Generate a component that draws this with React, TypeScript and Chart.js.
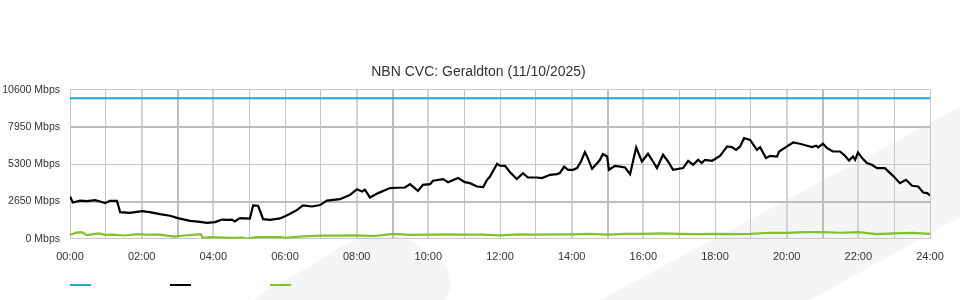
import React, { useEffect, useRef } from "react";
import { Chart, registerables } from "chart.js";

Chart.register(...registerables);

const titleText = "NBN CVC: Geraldton (11/10/2025)";
const yTicks = [0, 2650, 5300, 7950, 10600];

const capacityTimes = [0, 24];
const capacityMbps = [10000, 10000];

const downloadTimes = [
  0.0, 0.08, 0.28, 0.47, 0.7, 0.84, 0.98, 1.12, 1.31, 1.4, 1.67, 2.01, 2.23, 2.51, 2.79, 3.01, 3.35, 3.63, 3.82,
  4.05, 4.24, 4.41, 4.52, 4.6, 4.74, 5.02, 5.11, 5.25, 5.39, 5.58, 5.86, 6.0, 6.14, 6.33, 6.5, 6.75, 6.98, 7.17,
  7.53, 7.81, 8.01, 8.15, 8.23, 8.37, 8.6, 8.93, 9.13, 9.35, 9.49, 9.71, 9.85, 10.05, 10.13, 10.41, 10.55, 10.83,
  11.02, 11.16, 11.36, 11.53, 11.64, 11.72, 11.92, 12.0, 12.14, 12.28, 12.47, 12.64, 12.78, 13.03, 13.17, 13.4,
  13.59, 13.67, 13.79, 13.9, 14.04, 14.15, 14.26, 14.37, 14.43, 14.57, 14.74, 14.79, 14.87, 14.99, 15.04, 15.21,
  15.35, 15.49, 15.63, 15.8, 15.96, 16.13, 16.24, 16.38, 16.55, 16.69, 16.83, 17.11, 17.25, 17.39, 17.53, 17.63,
  17.72, 17.92, 18.14, 18.34, 18.47, 18.59, 18.7, 18.81, 18.98, 19.17, 19.26, 19.42, 19.54, 19.73, 19.79, 20.01,
  20.18, 20.37, 20.57, 20.71, 20.82, 20.88, 21.01, 21.13, 21.29, 21.49, 21.63, 21.74, 21.85, 21.91, 21.99, 22.13,
  22.24, 22.38, 22.52, 22.74, 22.97, 23.16, 23.33, 23.5, 23.67, 23.81, 23.92, 24.0,
];
const downloadMbps = [
  3010, 2580, 2720, 2680, 2750, 2650, 2540, 2700, 2700, 1900, 1850, 1970, 1900, 1760, 1640, 1470, 1280, 1200, 1140,
  1190, 1370, 1340, 1370, 1230, 1470, 1440, 2370, 2350, 1400, 1350, 1450, 1610, 1780, 2040, 2370, 2300, 2400, 2720,
  2820, 3110, 3530, 3370, 3490, 2940, 3250, 3610, 3630, 3650, 3890, 3410, 3840, 3890, 4130, 4250, 4030, 4320,
  4030, 3960, 3720, 3680, 4200, 4430, 5340, 5210, 5190, 4740, 4250, 4670, 4360, 4360, 4320, 4550,
  4600, 4670, 5140, 4910, 4910, 5030, 5500, 6170, 5860, 4980, 5460, 5620, 6030, 5860, 4910, 5190,
  5140, 5070, 4600, 6500, 5500, 6050, 5620, 5030, 5980, 5500, 4910, 5030, 5550, 5260, 5620, 5390,
  5620, 5550, 5900, 6570, 6520, 6330, 6570, 7160, 7040, 6330, 6520, 5740, 5900, 5850, 6210, 6570,
  6850, 6760, 6620, 6520, 6620, 6500, 6760, 6450, 6210, 6210, 5900, 5570, 5860, 5620, 6140, 5670,
  5390, 5260, 5030, 5030, 4480, 3960, 4200, 3770, 3720, 3290, 3250, 3080,
];

const uploadTimes = [
  0.0, 0.2, 0.35, 0.47, 0.8, 0.98, 1.2, 1.5, 1.9, 2.1, 2.5, 2.9, 3.2, 3.5, 3.65, 3.7, 3.9, 4.5, 4.8, 4.95, 5.2,
  5.9, 6.0, 6.4, 6.8, 7.0, 7.5, 8.0, 8.5, 9.0, 9.5, 10.0, 10.5, 11.0, 11.5, 12.0, 12.5, 13.0, 13.5, 14.0, 14.5,
  15.0, 15.5, 16.0, 16.5, 17.0, 17.5, 18.0, 18.5, 19.0, 19.5, 20.0, 20.5, 21.0, 21.5, 22.0, 22.5, 23.0, 23.5, 24.0,
];
const uploadMbps = [
  285, 450, 450, 260, 380, 285, 300, 235, 330, 300, 300, 150, 235, 300, 330, 70, 120, 60, 90, 20, 120,
  120, 60, 150, 210, 220, 220, 250, 200, 350, 280, 300, 320, 300, 300, 250, 320, 300, 320, 320, 350,
  300, 350, 350, 380, 350, 330, 350, 330, 350, 430, 420, 480, 480, 430, 480, 330, 380, 420, 350,
];

const seriesColors = ["#1fa5e0", "#000000", "#80c22a"];

const toPoints = (xs: number[], ys: number[]) => xs.map((x, i) => ({ x, y: ys[i] }));

const watermark = {
  id: "watermark",
  beforeDraw(chart: any) {
    const c = chart.ctx;
    c.save();
    c.fillStyle = "#f4f5f7";
    c.beginPath();
    c.moveTo(253, 300);
    c.lineTo(270, 288);
    c.lineTo(300, 272);
    c.lineTo(340, 247);
    c.lineTo(367, 235);
    c.lineTo(387, 233);
    c.lineTo(413, 242);
    c.lineTo(447, 267);
    c.lineTo(452, 287);
    c.lineTo(445, 300);
    c.closePath();
    c.fill();
    c.beginPath();
    c.moveTo(600, 300);
    c.lineTo(960, 107);
    c.lineTo(960, 217);
    c.lineTo(810, 300);
    c.closePath();
    c.fill();
    c.restore();
  },
};

const lineLegend = {
  id: "lineLegend",
  afterDraw(chart: any) {
    const c = chart.ctx;
    const left = chart.chartArea.left;
    c.save();
    chart.data.datasets.forEach((ds: any, i: number) => {
      c.fillStyle = ds.borderColor;
      c.fillRect(left + i * 100, 284, 21, 2);
    });
    c.restore();
  },
};

export default function App() {
  const ref = useRef<HTMLCanvasElement | null>(null);
  useEffect(() => {
    document.body.style.margin = "0";
    if (!ref.current) return;
    const chart = new Chart(ref.current, {
      type: "line",
      data: {
        datasets: [
          { label: "Capacity", data: toPoints(capacityTimes, capacityMbps), borderColor: seriesColors[0], borderWidth: 2 },
          { label: "Download", data: toPoints(downloadTimes, downloadMbps), borderColor: seriesColors[1], borderWidth: 2.2 },
          { label: "Upload", data: toPoints(uploadTimes, uploadMbps), borderColor: seriesColors[2], borderWidth: 2.2 },
        ],
      },
      options: {
        responsive: false,
        animation: false,
        elements: { point: { radius: 0 }, line: { tension: 0 } },
        layout: { padding: { top: 52, right: 3, bottom: 24, left: 0 } },
        plugins: {
          legend: { display: false },
          tooltip: { enabled: false },
          title: {
            display: true,
            text: titleText,
            color: "#333333",
            font: { family: "'Liberation Sans', Arial, sans-serif", size: 14, weight: "normal" },
            padding: { top: 12, bottom: 9 },
          },
        },
        scales: {
          x: {
            type: "linear",
            min: 0,
            max: 24,
            afterFit: (scale: any) => {
              scale.paddingRight = 30;
            },
            border: { display: true, color: "#c8c8c8" },
            ticks: {
              stepSize: 1,
              autoSkip: false,
              maxRotation: 0,
              padding: 12,
              color: "#333333",
              font: { family: "'Liberation Sans', Arial, sans-serif", size: 11 },
              callback: (v: any) => (Number(v) % 2 === 0 ? String(v).padStart(2, "0") + ":00" : ""),
            },
            grid: {
              drawTicks: false,
              color: (ctx: any) => {
                const h = ctx.tick ? ctx.tick.value % 6 : 0;
                return h === 3 ? "#bdbdbd" : h === 2 || h === 4 ? "#d2d2d2" : "#c6c6c6";
              },
              lineWidth: (ctx: any) => {
                const h = ctx.tick ? ctx.tick.value % 6 : 0;
                return h === 2 || h === 3 || h === 4 ? 2 : 1;
              },
            },
          },
          y: {
            min: 0,
            max: 10600,
            afterFit: (scale: any) => {
              scale.width = 70;
            },
            afterBuildTicks: (scale: any) => {
              scale.ticks = yTicks.map((value) => ({ value }));
            },
            border: { display: true, color: "#c8c8c8" },
            ticks: {
              padding: 10,
              color: "#333333",
              font: { family: "'Liberation Sans', Arial, sans-serif", size: 10.5 },
              callback: (v: any) => v + " Mbps",
            },
            grid: {
              drawTicks: false,
              color: (ctx: any) => (ctx.tick && (ctx.tick.value === 7950 || ctx.tick.value === 2650) ? "#bdbdbd" : "#c8c8c8"),
              lineWidth: (ctx: any) => (ctx.tick && (ctx.tick.value === 7950 || ctx.tick.value === 2650) ? 2 : 1),
            },
          },
        },
      },
      plugins: [watermark, lineLegend],
    });
    return () => chart.destroy();
  }, []);
  return (
    <div style={{ width: 960, height: 300 }}>
      <canvas ref={ref} width={960} height={300} />
    </div>
  );
}
